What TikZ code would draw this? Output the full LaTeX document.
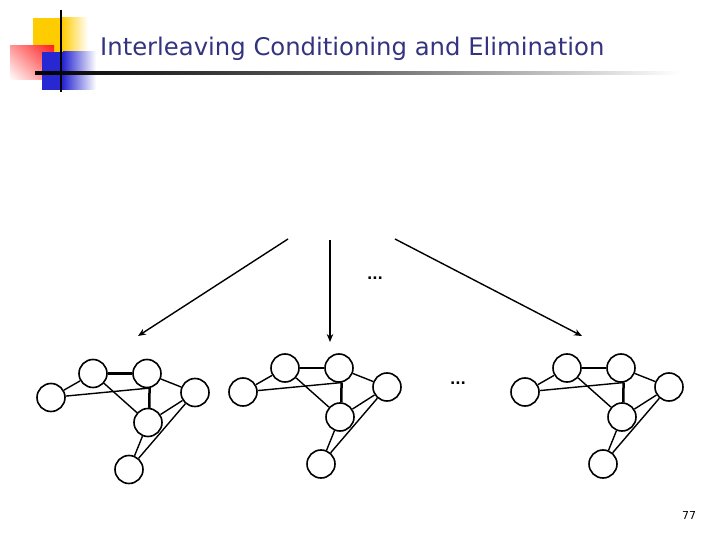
\documentclass[tikz,border=0pt]{standalone}
\usepackage{fontspec}
\setmainfont{DejaVu Sans}
\usetikzlibrary{arrows.meta,shadings}
\definecolor{titleblue}{RGB}{51,51,128}
\definecolor{logoyellow}{RGB}{255,204,0}
\definecolor{logored}{RGB}{255,30,30}
\definecolor{logoblue}{RGB}{40,40,210}
\begin{document}
\begin{tikzpicture}[x=1pt,y=-1pt,
  vnode/.style={circle,draw,line width=1.6pt,minimum size=28pt,inner sep=0pt},
  edge/.style={line width=1.4pt},
  tedge/.style={line width=2.5pt},
  arr/.style={line width=1.4pt,-{Stealth[length=8pt,width=6.5pt]}}]
\useasboundingbox (0,0) rectangle (720,540);
% logo
\fill[logoyellow] (33,18) rectangle (62,52);
\shade[left color=logoyellow,right color=white] (62,18) rectangle (88,52);
\shade[upper right=logored,upper left=logored!45,lower right=logored!55,lower left=white] (10,46) rectangle (54,80);
\fill[logoblue] (42,52) rectangle (63,90);
\shade[left color=logoblue,right color=white] (63,52) rectangle (96,90);
\draw[line width=2pt] (61,10) -- (61,92);
\shade[left color=black,right color=white,middle color=black!60] (35,72) rectangle (680,75);
% title
\node[anchor=base west,inner sep=0pt,text=titleblue,font=\fontsize{24.3}{28}\selectfont] (title) at (100,56) {Interleaving Conditioning and Elimination};
% graphs
\foreach \g/\dx/\dy in {1/-192/5.5, 2/0/0, 3/282/0} {
  \begin{scope}[shift={(\dx,\dy)}]
  \node[vnode] (a\g) at (243,392) {};
  \node[vnode] (b\g) at (285,368) {};
  \node[vnode] (c\g) at (339,368) {};
  \node[vnode] (d\g) at (387,387) {};
  \node[vnode] (e\g) at (340,417) {};
  \node[vnode] (f\g) at (321,464) {};
  \draw[edge] (a\g) -- (b\g);
  \draw[edge] (a\g) -- (c\g.-80);
  \draw[tedge] (b\g) -- (c\g);
  \draw[edge] (b\g) -- (e\g);
  \draw[tedge] (c\g.-80) -- (e\g.85);
  \draw[edge] (c\g) -- (d\g);
  \draw[edge] (d\g) -- (e\g);
  \draw[edge] (d\g) -- (f\g);
  \draw[edge] (e\g) -- (f\g);
  \end{scope}
}
% arrows
\coordinate (s1) at (288,239);
\coordinate (t1) at (138,336);
\coordinate (s2) at (330,240);
\coordinate (t2) at (330,342);
\coordinate (s3) at (395,239);
\coordinate (t3) at (582,336);
\draw[arr] (s1) -- (t1);
\draw[arr] (s2) -- (t2);
\draw[arr] (s3) -- (t3);
\node[font=\fontsize{14}{16}\selectfont\bfseries] (dots1) at (375,278) {...};
\node[font=\fontsize{14}{16}\selectfont\bfseries] (dots2) at (458,383) {...};
\node[font=\fontsize{11}{13}\selectfont] (pg) at (689,515) {77};
\end{tikzpicture}
\end{document}
